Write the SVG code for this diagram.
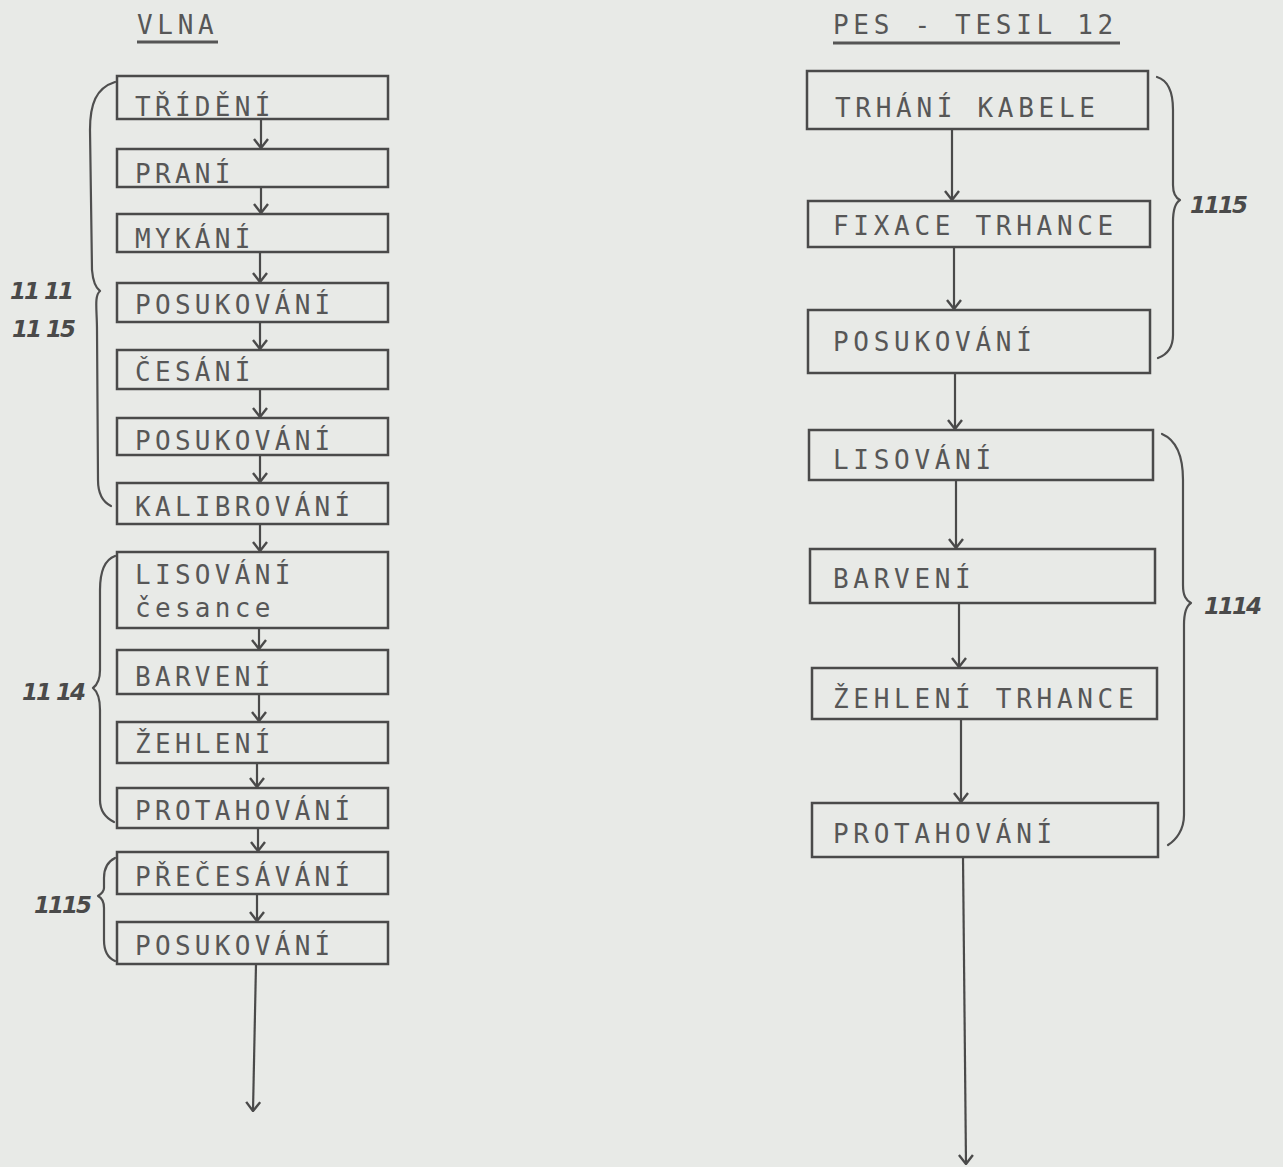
<svg xmlns="http://www.w3.org/2000/svg" width="1283" height="1167" viewBox="0 0 1283 1167">
<defs>
<style>
.bg{fill:#e8eae7}
.box{fill:none;stroke:#4a4a4a;stroke-width:2.5}
.t{font-family:"DejaVu Sans Mono",monospace;font-size:26px;letter-spacing:4.3px;fill:#575757}
.h{font-family:"DejaVu Sans Mono",monospace;font-size:26px;letter-spacing:4.7px;fill:#575757}
.ul{stroke:#555;stroke-width:3}
.c{fill:none;stroke:#4a4a4a;stroke-width:2.2}
.br{fill:none;stroke:#4f4f4f;stroke-width:2.2;stroke-linecap:round;stroke-linejoin:round}
.n{font-family:"DejaVu Sans",sans-serif;font-style:italic;font-weight:bold;font-size:23px;fill:#4a4a4a;letter-spacing:-2px}
</style>
<marker id="ah" viewBox="0 0 11 16" refX="10" refY="8" markerWidth="11" markerHeight="16" markerUnits="userSpaceOnUse" orient="auto">
<path d="M1 1 L10 8 L1 15" fill="none" stroke="#4a4a4a" stroke-width="2.4"/>
</marker>
</defs>
<rect class="bg" x="0" y="0" width="1283" height="1167"/>

<g id="titles">
<text class="h" x="137" y="34">VLNA</text>
<line class="ul" x1="137" y1="42" x2="218" y2="42"/>
<text class="h" x="833" y="34">PES - TESIL 12</text>
<line class="ul" x1="833" y1="43" x2="1120" y2="43"/>
</g>

<g id="left-nodes">
<g id="l1"><rect class="box" x="117" y="76" width="271" height="43"/><text class="t" x="135" y="116">TŘÍDĚNÍ</text></g>
<g id="l2"><rect class="box" x="117" y="149" width="271" height="38"/><text class="t" x="135" y="183">PRANÍ</text></g>
<g id="l3"><rect class="box" x="117" y="214" width="271" height="38"/><text class="t" x="135" y="248">MYKÁNÍ</text></g>
<g id="l4"><rect class="box" x="117" y="283" width="271" height="39"/><text class="t" x="135" y="314">POSUKOVÁNÍ</text></g>
<g id="l5"><rect class="box" x="117" y="350" width="271" height="39"/><text class="t" x="135" y="381">ČESÁNÍ</text></g>
<g id="l6"><rect class="box" x="117" y="418" width="271" height="37"/><text class="t" x="135" y="450">POSUKOVÁNÍ</text></g>
<g id="l7"><rect class="box" x="117" y="483" width="271" height="41"/><text class="t" x="135" y="516">KALIBROVÁNÍ</text></g>
<g id="l8"><rect class="box" x="117" y="552" width="271" height="76"/><text class="t" x="135" y="584">LISOVÁNÍ</text><text class="t" x="135" y="617">česance</text></g>
<g id="l9"><rect class="box" x="117" y="650" width="271" height="44"/><text class="t" x="135" y="686">BARVENÍ</text></g>
<g id="l10"><rect class="box" x="117" y="722" width="271" height="41"/><text class="t" x="135" y="753">ŽEHLENÍ</text></g>
<g id="l11"><rect class="box" x="117" y="788" width="271" height="40"/><text class="t" x="135" y="820">PROTAHOVÁNÍ</text></g>
<g id="l12"><rect class="box" x="117" y="852" width="271" height="42"/><text class="t" x="135" y="886">PŘEČESÁVÁNÍ</text></g>
<g id="l13"><rect class="box" x="117" y="922" width="271" height="42"/><text class="t" x="135" y="955">POSUKOVÁNÍ</text></g>
</g>

<g id="right-nodes">
<g id="r1"><rect class="box" x="807" y="71" width="341" height="58"/><text class="h" x="835" y="117">TRHÁNÍ KABELE</text></g>
<g id="r2"><rect class="box" x="808" y="201" width="342" height="46"/><text class="h" x="833" y="235">FIXACE TRHANCE</text></g>
<g id="r3"><rect class="box" x="808" y="310" width="342" height="63"/><text class="h" x="833" y="351">POSUKOVÁNÍ</text></g>
<g id="r4"><rect class="box" x="809" y="430" width="344" height="50"/><text class="h" x="833" y="469">LISOVÁNÍ</text></g>
<g id="r5"><rect class="box" x="810" y="549" width="345" height="54"/><text class="h" x="833" y="588">BARVENÍ</text></g>
<g id="r6"><rect class="box" x="812" y="668" width="345" height="51"/><text class="h" x="833" y="708">ŽEHLENÍ TRHANCE</text></g>
<g id="r7"><rect class="box" x="812" y="803" width="346" height="54"/><text class="h" x="833" y="843">PROTAHOVÁNÍ</text></g>
</g>

<g id="connectors">
<line class="c" x1="261" y1="119" x2="261" y2="148" marker-end="url(#ah)"/>
<line class="c" x1="261" y1="187" x2="261" y2="213" marker-end="url(#ah)"/>
<line class="c" x1="260" y1="252" x2="260" y2="282" marker-end="url(#ah)"/>
<line class="c" x1="260" y1="322" x2="260" y2="349" marker-end="url(#ah)"/>
<line class="c" x1="260" y1="389" x2="260" y2="417" marker-end="url(#ah)"/>
<line class="c" x1="260" y1="455" x2="260" y2="482" marker-end="url(#ah)"/>
<line class="c" x1="260" y1="524" x2="260" y2="551" marker-end="url(#ah)"/>
<line class="c" x1="259" y1="628" x2="259" y2="649" marker-end="url(#ah)"/>
<line class="c" x1="259" y1="694" x2="259" y2="721" marker-end="url(#ah)"/>
<line class="c" x1="257" y1="763" x2="257" y2="787" marker-end="url(#ah)"/>
<line class="c" x1="258" y1="828" x2="258" y2="851" marker-end="url(#ah)"/>
<line class="c" x1="257" y1="894" x2="257" y2="921" marker-end="url(#ah)"/>
<line class="c" x1="256" y1="964" x2="253" y2="1111" marker-end="url(#ah)"/>

<line class="c" x1="952" y1="129" x2="952" y2="200" marker-end="url(#ah)"/>
<line class="c" x1="954" y1="247" x2="954" y2="309" marker-end="url(#ah)"/>
<line class="c" x1="955" y1="373" x2="955" y2="429" marker-end="url(#ah)"/>
<line class="c" x1="956" y1="480" x2="956" y2="548" marker-end="url(#ah)"/>
<line class="c" x1="959" y1="603" x2="959" y2="667" marker-end="url(#ah)"/>
<line class="c" x1="961" y1="719" x2="961" y2="802" marker-end="url(#ah)"/>
<line class="c" x1="963" y1="857" x2="966" y2="1164" marker-end="url(#ah)"/>
</g>

<g id="braces">
<path class="br" d="M115 82 C96 88 90 104 90 130 L92 270 C93 282 96 288 100 291 C94 296 97 310 97 330 L98 480 C98 494 103 502 111 506"/>
<path class="br" d="M115 556 C104 560 100 572 100 590 L100 670 C100 680 97 685 93 688 C98 692 100 700 100 710 L100 800 C100 812 106 818 114 822"/>
<path class="br" d="M115 858 C107 862 104 868 104 878 L104 888 C104 892 101 894 98 896 C102 898 104 902 104 908 L104 940 C104 952 108 958 115 961"/>
<path class="br" d="M1157 77 C1167 80 1173 90 1173 110 L1173 185 C1173 194 1176 198 1180 200 C1175 203 1173 210 1173 222 L1173 335 C1173 348 1166 355 1158 358"/>
<path class="br" d="M1162 434 C1176 440 1183 455 1183 480 L1183 585 C1183 596 1186 600 1191 603 C1186 606 1184 614 1184 625 L1184 815 C1184 830 1176 840 1168 845"/>
</g>

<g id="labels">
<text class="n" x="10" y="299">11 11</text>
<text class="n" x="12" y="337">11 15</text>
<text class="n" x="22" y="700">11 14</text>
<text class="n" x="34" y="913">1115</text>
<text class="n" x="1190" y="213">1115</text>
<text class="n" x="1204" y="614">1114</text>
</g>
</svg>
